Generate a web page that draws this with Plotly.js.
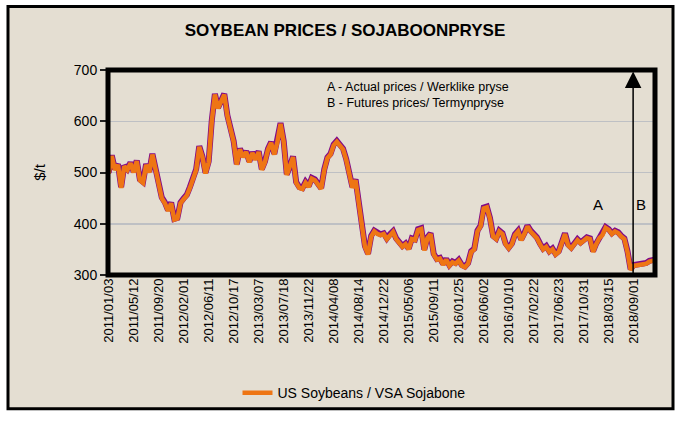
<!DOCTYPE html>
<html><head><meta charset="utf-8">
<script src="https://cdn.plot.ly/plotly-3.0.1.min.js"></script>
<style>html,body{margin:0;padding:0;background:#fff;} #chart{width:679px;height:421px;}</style>
</head><body><div id="chart"></div>
<script>
const tickLabels = ['2011/01/03','2011/05/12','2011/09/20','2012/02/01','2012/06/11','2012/10/17',
  '2013/03/07','2013/07/18','2013/11/22','2014/04/08','2014/08/14','2014/12/22','2015/05/06',
  '2015/09/11','2016/01/25','2016/06/02','2016/10/10','2017/02/22','2017/06/23','2017/10/31',
  '2018/03/15','2018/09/01'];

const actualPrices = [
  498, 532, 505, 515, 470, 512, 505, 518,
  500, 522, 485, 480, 515, 500, 535, 505,
  470, 450, 440, 425, 440, 408, 410, 440,
  448, 455, 470, 490, 505, 550, 530, 498,
  520, 600, 652, 625, 640, 652, 610, 580,
  560, 515, 545, 530, 540, 520, 538, 525,
  540, 505, 520, 545, 558, 535, 560, 595,
  560, 495, 510, 530, 480, 470, 468, 480,
  472, 488, 485, 478, 468, 505, 528, 535,
  553, 560, 552, 545, 525, 495, 470, 485,
  440, 400, 355, 340, 375, 385, 380, 378,
  380, 370, 378, 384, 370, 362, 355, 360,
  350, 370, 368, 388, 390, 348, 372, 380,
  340, 330, 332, 320, 330, 318, 325, 322,
  328, 318, 315, 322, 345, 350, 385, 395,
  430, 432, 410, 375, 370, 385, 380, 360,
  352, 360, 378, 385, 368, 380, 395, 385,
  378, 372, 360, 350, 355, 345, 350, 340,
  345, 365, 380, 358, 352, 360, 368, 362,
  368, 372, 370, 345, 360, 372, 378, 392,
  388, 380, 385, 382, 375, 370, 345, 310
];
const futuresPrices = [318, 318, 320, 321, 322, 326, 328, 329];

const POINTS_PER_LABEL = 8;
const prices = actualPrices.concat(futuresPrices);
const idx = prices.map((_, i) => i);
const FONT = '"Liberation Sans", Arial, sans-serif';

// layout helpers (pixel -> paper)
const M = {l:108, r:24, t:70, b:141};
const W = 679, H = 421;
const PW = W - M.l - M.r, PH = H - M.t - M.b;
const px = x => (x - M.l) / PW;
const py = y => (H - M.b - y) / PH;

const traces = [
  {x: idx, y: prices, type:'scatter', mode:'lines', yaxis:'y2',
   line:{color:'#800A88', width:6}, showlegend:false, hoverinfo:'skip'},
  {x: idx, y: prices, type:'scatter', mode:'lines', yaxis:'y3', name:'US Soybeans / VSA Sojabone',
   line:{color:'#EE7514', width:4.5}}
];

const layout = {
  width: W, height: H,
  margin: M,
  paper_bgcolor: '#ffffff',
  plot_bgcolor: 'rgba(0,0,0,0)',
  font: {family: FONT, color: '#000'},
  title: {text: '<b>SOYBEAN PRICES / SOJABOONPRYSE</b>', font: {size: 17, family: FONT, color: '#000'},
          x: 345 / W, xanchor: 'center', y: 1 - 30 / H, yanchor: 'middle'},
  xaxis: {range: [-0.2, 174.8], tickvals: tickLabels.map((_, k) => k * POINTS_PER_LABEL),
          ticktext: tickLabels, tickangle: -90, tickfont: {size: 13, family: FONT, color: '#000'},
          showgrid: false, zeroline: false, showline: false, ticks: ''},
  yaxis: {range: [300, 700], tickvals: [300, 400, 500, 600, 700], gridcolor: '#BEC0C4', gridwidth: 1.5,
          ticks: 'outside', ticklen: 7, tickwidth: 2, tickcolor: '#222',
          tickfont: {size: 14, family: FONT, color: '#000'}, showline: false, zeroline: false,
          title: {text: '$/t', font: {size: 15, family: FONT, color: '#000'}, standoff: 24}},
  yaxis2: {range: [298.5, 698.5], overlaying: 'y', visible: false},
  yaxis3: {range: [300, 700], overlaying: 'y', visible: false},
  showlegend: true,
  legend: {orientation: 'h', x: px(354), xanchor: 'center', y: py(401), yanchor: 'middle',
           font: {size: 14, family: FONT, color: '#000'}, bgcolor: 'rgba(0,0,0,0)'},
  shapes: [
    {type: 'rect', xref: 'paper', yref: 'paper', x0: px(8), x1: px(673), y0: py(417), y1: py(5),
     fillcolor: '#E4DED2', line: {color: '#000', width: 3}, layer: 'below'},
    {type: 'rect', xref: 'paper', yref: 'paper', x0: 0, x1: 1, y0: 0, y1: 1,
     line: {color: '#000', width: 5}, layer: 'above'}
  ],
  annotations: [
    {xref: 'paper', yref: 'paper', x: px(325), y: py(87), xanchor: 'left', yanchor: 'middle',
     text: 'A - Actual prices / Werklike pryse', showarrow: false, font: {size: 12.5, family: FONT}},
    {xref: 'paper', yref: 'paper', x: px(325), y: py(104), xanchor: 'left', yanchor: 'middle',
     text: 'B - Futures prices/ Termynpryse', showarrow: false, font: {size: 12.5, family: FONT}},
    {xref: 'x', yref: 'y', x: actualPrices.length - 11.5, y: 438, text: 'A', showarrow: false,
     font: {size: 15, family: FONT}},
    {xref: 'x', yref: 'y', x: actualPrices.length + 2.2, y: 438, text: 'B', showarrow: false,
     font: {size: 15, family: FONT}},
    {xref: 'x', yref: 'y', axref: 'x', ayref: 'y', x: actualPrices.length - 0.2, y: 697,
     ax: actualPrices.length - 0.2, ay: 300, text: '', showarrow: true, arrowhead: 2,
     arrowsize: 2.2, arrowwidth: 1.5, arrowcolor: '#000', standoff: 0, startstandoff: 0}
  ]
};

Plotly.newPlot('chart', traces, layout, {displayModeBar: false, staticPlot: true});
</script>
</body></html>
